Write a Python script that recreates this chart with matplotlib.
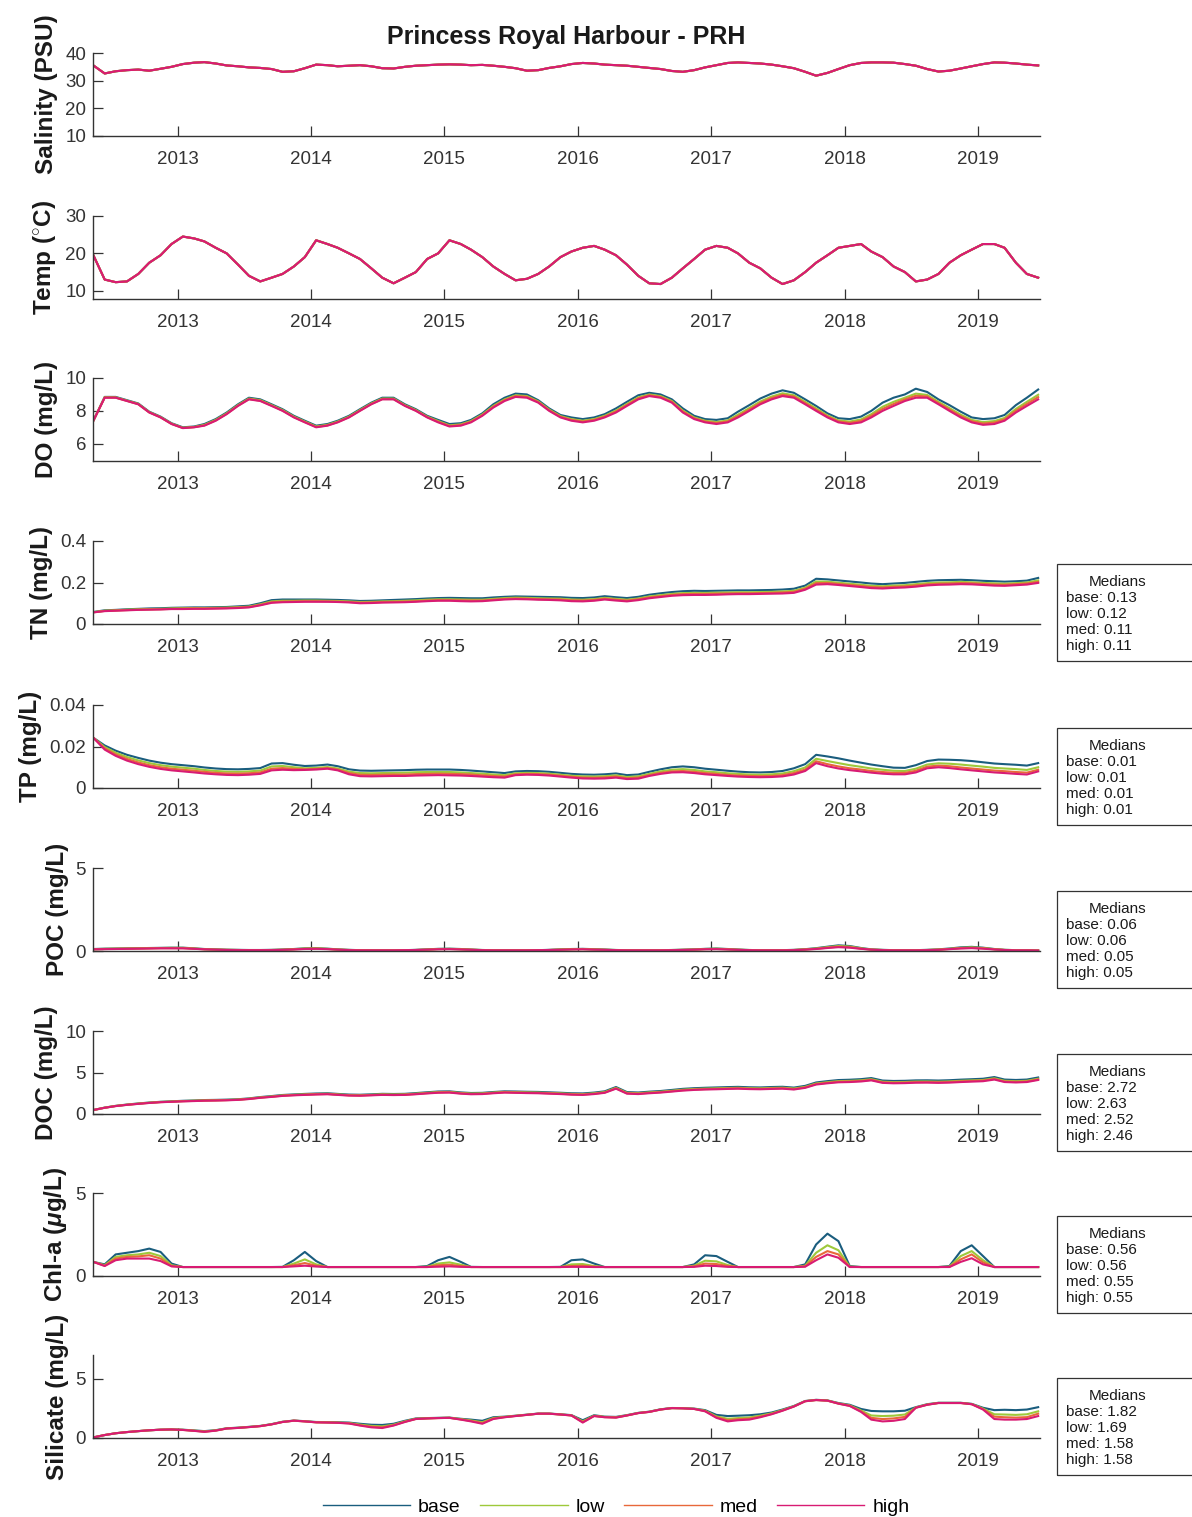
import numpy as np
import matplotlib
matplotlib.use('Agg')
import matplotlib.pyplot as plt
from matplotlib.patches import Rectangle
from matplotlib.lines import Line2D
from matplotlib.ticker import FuncFormatter
import matplotlib.dates as mdates

plt.rcParams['font.family'] = ['Liberation Sans', 'DejaVu Sans']
plt.rcParams['mathtext.fontset'] = 'custom'
plt.rcParams['mathtext.rm'] = 'Liberation Sans'
plt.rcParams['mathtext.it'] = 'Liberation Sans:italic:bold'
plt.rcParams['mathtext.bf'] = 'Liberation Sans:bold'

# monthly values, mid-month, May 2012 .. Jun 2019
months = np.arange('2012-05', '2019-07', dtype='datetime64[M]')
dates = months.astype('datetime64[D]') + 14

scenarios = ['base', 'low', 'med', 'high']
colors = ['#1a5d7e', '#9ec93a', '#e8683a', '#d81b73']

salinity = [35.5, 32.6, 33.4, 33.8, 34.0, 33.6, 34.3, 35.0,
            36.0, 36.5, 36.7, 36.2, 35.5, 35.2, 34.8, 34.6, 34.2, 33.2, 33.4, 34.5,
            35.8, 35.6, 35.2, 35.4, 35.6, 35.2, 34.5, 34.4, 35.0, 35.4, 35.6, 35.8,
            35.9, 35.8, 35.6, 35.7, 35.4, 35.0, 34.5, 33.6, 33.8, 34.6, 35.2, 36.0,
            36.4, 36.2, 35.8, 35.6, 35.4, 35.0, 34.6, 34.2, 33.5, 33.2, 33.8, 34.8,
            35.6, 36.4, 36.6, 36.4, 36.2, 35.8, 35.2, 34.5, 33.2, 31.8, 32.8, 34.2,
            35.6, 36.4, 36.6, 36.6, 36.5, 36.0, 35.4, 34.2, 33.3, 33.6, 34.4, 35.2,
            36.0, 36.6, 36.5, 36.2, 35.8, 35.5]

temp = [19.5, 13.0, 12.3, 12.5, 14.5, 17.5, 19.5, 22.5,
        24.5, 24.0, 23.2, 21.5, 20.0, 17.0, 14.0, 12.5, 13.5, 14.5, 16.5, 19.0,
        23.5, 22.5, 21.5, 20.0, 18.5, 16.0, 13.5, 12.0, 13.5, 15.0, 18.5, 20.0,
        23.5, 22.5, 21.0, 19.0, 16.5, 14.5, 12.8, 13.2, 14.5, 16.5, 19.0, 20.5,
        21.5, 22.0, 21.0, 19.5, 17.0, 14.0, 12.0, 11.8, 13.5, 16.0, 18.5, 21.0,
        22.0, 21.5, 20.0, 17.5, 16.0, 13.5, 11.8, 12.8, 15.0, 17.5, 19.5, 21.5,
        22.0, 22.5, 20.5, 19.0, 16.5, 15.0, 12.5, 13.0, 14.5, 17.5, 19.5, 21.0,
        22.5, 22.5, 21.5, 17.5, 14.5, 13.5]

do_base = [7.4, 8.85, 8.85, 8.65, 8.45, 7.95, 7.65, 7.25,
           7.0, 7.05, 7.2, 7.5, 7.9, 8.4, 8.8, 8.7, 8.4, 8.1, 7.7, 7.4,
           7.1, 7.2, 7.4, 7.7, 8.1, 8.5, 8.8, 8.8, 8.4, 8.1, 7.7, 7.45,
           7.2, 7.25, 7.45, 7.85, 8.4, 8.8, 9.05, 9.0, 8.65, 8.15, 7.75, 7.6,
           7.5, 7.6, 7.8, 8.15, 8.55, 8.95, 9.1, 9.0, 8.7, 8.15, 7.7, 7.5,
           7.45, 7.55, 7.95, 8.35, 8.75, 9.05, 9.25, 9.1, 8.7, 8.3, 7.85, 7.55,
           7.5, 7.65, 8.0, 8.5, 8.8, 9.0, 9.35, 9.15, 8.7, 8.35, 7.95, 7.6,
           7.5, 7.55, 7.75, 8.35, 8.8, 9.3]
do_low = [7.4, 8.83, 8.82, 8.62, 8.42, 7.92, 7.62, 7.22,
          6.97, 7.02, 7.15, 7.45, 7.85, 8.35, 8.75, 8.65, 8.35, 8.05, 7.65, 7.35,
          7.05, 7.15, 7.35, 7.65, 8.05, 8.45, 8.75, 8.75, 8.35, 8.05, 7.65, 7.38,
          7.12, 7.18, 7.38, 7.78, 8.3, 8.7, 8.95, 8.9, 8.58, 8.08, 7.68, 7.5,
          7.4, 7.5, 7.7, 8.02, 8.42, 8.82, 9.0, 8.9, 8.6, 8.02, 7.6, 7.4,
          7.32, 7.42, 7.77, 8.17, 8.57, 8.87, 9.07, 8.95, 8.55, 8.15, 7.72, 7.42,
          7.35, 7.48, 7.8, 8.25, 8.55, 8.8, 9.05, 8.97, 8.55, 8.17, 7.77, 7.45,
          7.32, 7.38, 7.57, 8.12, 8.55, 8.98]
do_med = [7.4, 8.81, 8.81, 8.61, 8.41, 7.91, 7.61, 7.21,
          6.96, 7.01, 7.12, 7.42, 7.82, 8.32, 8.72, 8.62, 8.32, 8.02, 7.62, 7.32,
          7.02, 7.12, 7.32, 7.62, 8.02, 8.42, 8.72, 8.72, 8.32, 8.02, 7.62, 7.34,
          7.08, 7.14, 7.34, 7.74, 8.25, 8.65, 8.9, 8.85, 8.54, 8.04, 7.64, 7.45,
          7.35, 7.45, 7.65, 7.96, 8.36, 8.76, 8.95, 8.85, 8.55, 7.96, 7.55, 7.35,
          7.26, 7.36, 7.68, 8.08, 8.48, 8.78, 8.98, 8.87, 8.47, 8.07, 7.66, 7.36,
          7.27, 7.39, 7.7, 8.12, 8.42, 8.7, 8.92, 8.88, 8.47, 8.08, 7.68, 7.37,
          7.23, 7.29, 7.48, 8.01, 8.42, 8.84]
do_high = [7.4, 8.8, 8.8, 8.6, 8.4, 7.9, 7.6, 7.2,
           6.95, 7.0, 7.1, 7.4, 7.8, 8.3, 8.7, 8.6, 8.3, 8.0, 7.6, 7.3,
           7.0, 7.1, 7.3, 7.6, 8.0, 8.4, 8.7, 8.7, 8.3, 8.0, 7.6, 7.3,
           7.05, 7.1, 7.3, 7.7, 8.2, 8.6, 8.85, 8.8, 8.5, 8.0, 7.6, 7.4,
           7.3, 7.4, 7.6, 7.9, 8.3, 8.7, 8.9, 8.8, 8.5, 7.9, 7.5, 7.3,
           7.2, 7.3, 7.6, 8.0, 8.4, 8.7, 8.9, 8.8, 8.4, 8.0, 7.6, 7.3,
           7.2, 7.3, 7.6, 8.0, 8.3, 8.6, 8.8, 8.8, 8.4, 8.0, 7.6, 7.3,
           7.15, 7.2, 7.4, 7.9, 8.3, 8.7]

tn_base = [0.058, 0.066, 0.068, 0.071, 0.073, 0.075, 0.076, 0.078,
           0.079, 0.080, 0.080, 0.081, 0.082, 0.085, 0.088, 0.100, 0.115, 0.118, 0.118, 0.118,
           0.118, 0.117, 0.116, 0.114, 0.111, 0.112, 0.114, 0.116, 0.118, 0.120, 0.123, 0.125,
           0.126, 0.125, 0.124, 0.124, 0.128, 0.131, 0.133, 0.132, 0.131, 0.130, 0.129, 0.126,
           0.125, 0.128, 0.134, 0.129, 0.125, 0.131, 0.141, 0.148, 0.154, 0.158, 0.160, 0.159,
           0.160, 0.161, 0.162, 0.162, 0.163, 0.164, 0.166, 0.170, 0.185, 0.218, 0.215, 0.210,
           0.205, 0.200, 0.195, 0.192, 0.195, 0.198, 0.203, 0.208, 0.211, 0.212, 0.213, 0.211,
           0.208, 0.206, 0.204, 0.206, 0.209, 0.222]
tn_low = [0.057, 0.064, 0.066, 0.069, 0.071, 0.072, 0.073, 0.075,
          0.076, 0.077, 0.077, 0.078, 0.079, 0.081, 0.084, 0.095, 0.109, 0.112, 0.112, 0.113,
          0.113, 0.112, 0.111, 0.109, 0.106, 0.107, 0.109, 0.110, 0.112, 0.114, 0.117, 0.119,
          0.119, 0.118, 0.117, 0.117, 0.121, 0.125, 0.127, 0.126, 0.124, 0.123, 0.122, 0.118,
          0.117, 0.120, 0.126, 0.121, 0.117, 0.123, 0.133, 0.139, 0.145, 0.149, 0.150, 0.150,
          0.151, 0.152, 0.153, 0.153, 0.154, 0.155, 0.157, 0.160, 0.175, 0.205, 0.204, 0.199,
          0.194, 0.189, 0.184, 0.182, 0.185, 0.187, 0.192, 0.197, 0.200, 0.201, 0.203, 0.201,
          0.198, 0.196, 0.194, 0.197, 0.200, 0.210]
tn_med = [0.056, 0.063, 0.065, 0.067, 0.069, 0.070, 0.071, 0.073,
          0.074, 0.075, 0.075, 0.076, 0.077, 0.079, 0.082, 0.092, 0.105, 0.108, 0.109, 0.110,
          0.110, 0.109, 0.108, 0.106, 0.103, 0.104, 0.106, 0.107, 0.108, 0.110, 0.113, 0.115,
          0.115, 0.114, 0.113, 0.113, 0.117, 0.121, 0.123, 0.122, 0.120, 0.119, 0.118, 0.114,
          0.113, 0.116, 0.122, 0.117, 0.113, 0.119, 0.128, 0.134, 0.140, 0.144, 0.145, 0.145,
          0.146, 0.147, 0.148, 0.148, 0.149, 0.150, 0.152, 0.155, 0.170, 0.197, 0.198, 0.193,
          0.188, 0.183, 0.178, 0.176, 0.179, 0.181, 0.186, 0.191, 0.194, 0.195, 0.197, 0.196,
          0.193, 0.190, 0.189, 0.192, 0.195, 0.203]
tn_high = [0.056, 0.062, 0.064, 0.066, 0.068, 0.069, 0.070, 0.072,
           0.072, 0.073, 0.073, 0.074, 0.075, 0.077, 0.080, 0.090, 0.102, 0.105, 0.106, 0.107,
           0.107, 0.107, 0.106, 0.104, 0.100, 0.101, 0.103, 0.104, 0.105, 0.107, 0.110, 0.112,
           0.112, 0.110, 0.109, 0.110, 0.114, 0.118, 0.120, 0.119, 0.117, 0.116, 0.114, 0.110,
           0.109, 0.112, 0.118, 0.113, 0.109, 0.115, 0.124, 0.130, 0.136, 0.139, 0.140, 0.140,
           0.141, 0.143, 0.144, 0.144, 0.145, 0.146, 0.147, 0.150, 0.165, 0.190, 0.192, 0.188,
           0.183, 0.178, 0.173, 0.171, 0.174, 0.176, 0.180, 0.186, 0.189, 0.190, 0.192, 0.191,
           0.188, 0.185, 0.184, 0.187, 0.190, 0.198]

tp_base = [0.0242, 0.0205, 0.0180, 0.0160, 0.0145, 0.0132, 0.0122, 0.0115,
           0.0110, 0.0105, 0.0099, 0.0094, 0.0091, 0.0090, 0.0092, 0.0096, 0.0118, 0.0120, 0.0112, 0.0106,
           0.0108, 0.0113, 0.0105, 0.0090, 0.0084, 0.0083, 0.0084, 0.0085, 0.0086, 0.0088, 0.0089, 0.0089,
           0.0089, 0.0087, 0.0084, 0.0080, 0.0076, 0.0072, 0.0080, 0.0082, 0.0081, 0.0078, 0.0073, 0.0068,
           0.0065, 0.0064, 0.0066, 0.0070, 0.0062, 0.0065, 0.0078, 0.0090, 0.0100, 0.0104, 0.0100, 0.0093,
           0.0088, 0.0083, 0.0079, 0.0076, 0.0075, 0.0077, 0.0082, 0.0095, 0.0115, 0.0160, 0.0152, 0.0143,
           0.0132, 0.0122, 0.0113, 0.0105, 0.0098, 0.0097, 0.0110, 0.0130, 0.0137, 0.0136, 0.0134, 0.0130,
           0.0124, 0.0118, 0.0115, 0.0112, 0.0108, 0.0120]
tp_low = [0.0242, 0.0197, 0.0170, 0.0149, 0.0133, 0.0120, 0.0110, 0.0103,
          0.0098, 0.0093, 0.0087, 0.0082, 0.0079, 0.0078, 0.0080, 0.0084, 0.0104, 0.0106, 0.0100, 0.0095,
          0.0097, 0.0101, 0.0094, 0.0079, 0.0072, 0.0071, 0.0072, 0.0073, 0.0074, 0.0076, 0.0077, 0.0077,
          0.0077, 0.0075, 0.0072, 0.0069, 0.0065, 0.0062, 0.0071, 0.0073, 0.0072, 0.0069, 0.0064, 0.0059,
          0.0056, 0.0055, 0.0057, 0.0061, 0.0053, 0.0056, 0.0068, 0.0080, 0.0088, 0.0091, 0.0087, 0.0080,
          0.0076, 0.0071, 0.0068, 0.0065, 0.0064, 0.0066, 0.0070, 0.0081, 0.0099, 0.0141, 0.0130, 0.0120,
          0.0110, 0.0102, 0.0094, 0.0088, 0.0083, 0.0082, 0.0093, 0.0113, 0.0119, 0.0117, 0.0113, 0.0108,
          0.0103, 0.0097, 0.0094, 0.0091, 0.0087, 0.0100]
tp_med = [0.0242, 0.0191, 0.0162, 0.0140, 0.0123, 0.0110, 0.0100, 0.0093,
          0.0088, 0.0083, 0.0078, 0.0073, 0.0070, 0.0069, 0.0071, 0.0075, 0.0093, 0.0096, 0.0092, 0.0090,
          0.0092, 0.0096, 0.0089, 0.0072, 0.0064, 0.0063, 0.0064, 0.0065, 0.0065, 0.0067, 0.0068, 0.0069,
          0.0068, 0.0067, 0.0065, 0.0061, 0.0058, 0.0055, 0.0066, 0.0068, 0.0067, 0.0064, 0.0059, 0.0054,
          0.0050, 0.0049, 0.0051, 0.0055, 0.0047, 0.0050, 0.0062, 0.0073, 0.0080, 0.0082, 0.0078, 0.0072,
          0.0068, 0.0063, 0.0060, 0.0058, 0.0057, 0.0058, 0.0062, 0.0072, 0.0089, 0.0129, 0.0115, 0.0104,
          0.0095, 0.0089, 0.0082, 0.0077, 0.0073, 0.0073, 0.0083, 0.0103, 0.0108, 0.0105, 0.0099, 0.0094,
          0.0089, 0.0084, 0.0081, 0.0077, 0.0074, 0.0088]
tp_high = [0.0242, 0.0185, 0.0155, 0.0132, 0.0115, 0.0102, 0.0092, 0.0085,
           0.0080, 0.0075, 0.0070, 0.0066, 0.0063, 0.0062, 0.0064, 0.0068, 0.0085, 0.0088, 0.0086, 0.0087,
           0.0089, 0.0093, 0.0085, 0.0066, 0.0057, 0.0056, 0.0057, 0.0058, 0.0058, 0.0060, 0.0061, 0.0062,
           0.0061, 0.0060, 0.0058, 0.0055, 0.0052, 0.0050, 0.0062, 0.0064, 0.0063, 0.0060, 0.0055, 0.0050,
           0.0046, 0.0045, 0.0046, 0.0050, 0.0043, 0.0045, 0.0058, 0.0068, 0.0075, 0.0076, 0.0072, 0.0066,
           0.0062, 0.0058, 0.0055, 0.0053, 0.0052, 0.0053, 0.0056, 0.0065, 0.0082, 0.0120, 0.0105, 0.0094,
           0.0086, 0.0080, 0.0074, 0.0069, 0.0066, 0.0066, 0.0075, 0.0095, 0.0100, 0.0096, 0.0090, 0.0085,
           0.0080, 0.0075, 0.0072, 0.0068, 0.0065, 0.0080]

poc_base = [0.12, 0.14, 0.15, 0.16, 0.17, 0.18, 0.19, 0.20,
            0.20, 0.16, 0.12, 0.10, 0.08, 0.07, 0.06, 0.06, 0.07, 0.09, 0.12, 0.16,
            0.17, 0.14, 0.10, 0.07, 0.05, 0.04, 0.04, 0.04, 0.05, 0.07, 0.10, 0.13,
            0.14, 0.12, 0.09, 0.06, 0.05, 0.04, 0.04, 0.04, 0.05, 0.07, 0.10, 0.12,
            0.13, 0.11, 0.09, 0.06, 0.05, 0.04, 0.04, 0.05, 0.06, 0.08, 0.10, 0.13,
            0.15, 0.12, 0.09, 0.06, 0.05, 0.04, 0.05, 0.07, 0.11, 0.17, 0.26, 0.34,
            0.30, 0.18, 0.10, 0.07, 0.05, 0.04, 0.05, 0.07, 0.10, 0.15, 0.22, 0.25,
            0.20, 0.12, 0.07, 0.05, 0.04, 0.03]
poc_low = [0.11, 0.13, 0.14, 0.15, 0.16, 0.17, 0.18, 0.19,
           0.19, 0.15, 0.11, 0.09, 0.07, 0.06, 0.05, 0.05, 0.06, 0.08, 0.11, 0.15,
           0.16, 0.13, 0.09, 0.06, 0.05, 0.04, 0.04, 0.04, 0.05, 0.06, 0.09, 0.12,
           0.13, 0.11, 0.08, 0.06, 0.05, 0.04, 0.04, 0.04, 0.05, 0.06, 0.09, 0.11,
           0.12, 0.10, 0.08, 0.06, 0.05, 0.04, 0.04, 0.05, 0.06, 0.07, 0.09, 0.12,
           0.14, 0.11, 0.08, 0.06, 0.05, 0.04, 0.05, 0.06, 0.10, 0.15, 0.23, 0.30,
           0.27, 0.16, 0.09, 0.06, 0.05, 0.04, 0.05, 0.06, 0.09, 0.13, 0.19, 0.22,
           0.18, 0.11, 0.07, 0.05, 0.04, 0.03]
poc_med = [0.10, 0.12, 0.13, 0.14, 0.15, 0.16, 0.17, 0.17,
           0.17, 0.14, 0.10, 0.08, 0.07, 0.06, 0.05, 0.05, 0.06, 0.07, 0.10, 0.13,
           0.14, 0.12, 0.08, 0.06, 0.05, 0.04, 0.04, 0.04, 0.05, 0.06, 0.08, 0.11,
           0.12, 0.10, 0.08, 0.05, 0.04, 0.04, 0.04, 0.04, 0.05, 0.06, 0.08, 0.10,
           0.11, 0.09, 0.07, 0.05, 0.04, 0.04, 0.04, 0.04, 0.05, 0.07, 0.08, 0.11,
           0.12, 0.10, 0.07, 0.05, 0.04, 0.04, 0.04, 0.06, 0.09, 0.13, 0.20, 0.26,
           0.23, 0.14, 0.08, 0.06, 0.04, 0.04, 0.04, 0.06, 0.08, 0.12, 0.17, 0.19,
           0.16, 0.10, 0.06, 0.04, 0.04, 0.03]
poc_high = [0.10, 0.11, 0.12, 0.13, 0.14, 0.15, 0.16, 0.16,
            0.16, 0.13, 0.10, 0.08, 0.06, 0.05, 0.05, 0.05, 0.05, 0.07, 0.09, 0.12,
            0.13, 0.11, 0.08, 0.05, 0.04, 0.04, 0.04, 0.04, 0.05, 0.06, 0.08, 0.10,
            0.11, 0.09, 0.07, 0.05, 0.04, 0.04, 0.04, 0.04, 0.05, 0.06, 0.07, 0.09,
            0.10, 0.08, 0.07, 0.05, 0.04, 0.04, 0.04, 0.04, 0.05, 0.06, 0.08, 0.10,
            0.11, 0.09, 0.07, 0.05, 0.04, 0.04, 0.04, 0.05, 0.08, 0.12, 0.18, 0.23,
            0.20, 0.13, 0.08, 0.05, 0.04, 0.04, 0.04, 0.05, 0.07, 0.11, 0.15, 0.17,
            0.14, 0.09, 0.06, 0.04, 0.04, 0.03]

doc_base = [0.48, 0.77, 0.98, 1.14, 1.27, 1.38, 1.47, 1.53,
            1.59, 1.63, 1.68, 1.70, 1.73, 1.78, 1.88, 2.04, 2.16, 2.29, 2.36, 2.42,
            2.47, 2.50, 2.42, 2.34, 2.32, 2.37, 2.43, 2.41, 2.43, 2.52, 2.62, 2.71,
            2.73, 2.60, 2.53, 2.55, 2.65, 2.73, 2.71, 2.68, 2.66, 2.61, 2.56, 2.50,
            2.48, 2.58, 2.73, 3.25, 2.64, 2.59, 2.69, 2.77, 2.90, 3.03, 3.11, 3.16,
            3.20, 3.24, 3.27, 3.22, 3.20, 3.25, 3.28, 3.18, 3.39, 3.80, 3.96, 4.09,
            4.13, 4.20, 4.33, 4.03, 3.98, 4.00, 4.05, 4.06, 4.03, 4.07, 4.14, 4.19,
            4.25, 4.45, 4.15, 4.10, 4.15, 4.40]
doc_low = [0.48, 0.76, 0.97, 1.12, 1.25, 1.36, 1.45, 1.50,
           1.56, 1.60, 1.64, 1.66, 1.69, 1.74, 1.84, 2.00, 2.11, 2.24, 2.31, 2.36,
           2.41, 2.44, 2.36, 2.28, 2.26, 2.31, 2.37, 2.35, 2.37, 2.45, 2.55, 2.64,
           2.66, 2.53, 2.46, 2.48, 2.58, 2.66, 2.63, 2.60, 2.58, 2.53, 2.48, 2.42,
           2.39, 2.49, 2.64, 3.15, 2.55, 2.50, 2.60, 2.68, 2.80, 2.93, 3.01, 3.06,
           3.09, 3.13, 3.16, 3.11, 3.09, 3.14, 3.17, 3.07, 3.27, 3.68, 3.83, 3.96,
           3.99, 4.06, 4.19, 3.89, 3.84, 3.86, 3.91, 3.92, 3.89, 3.93, 4.00, 4.05,
           4.10, 4.30, 4.00, 3.95, 4.00, 4.25]
doc_med = [0.48, 0.75, 0.96, 1.11, 1.23, 1.34, 1.43, 1.48,
           1.54, 1.58, 1.62, 1.64, 1.67, 1.72, 1.82, 1.97, 2.08, 2.21, 2.28, 2.33,
           2.38, 2.41, 2.33, 2.25, 2.23, 2.28, 2.33, 2.31, 2.33, 2.41, 2.51, 2.60,
           2.62, 2.49, 2.42, 2.44, 2.54, 2.62, 2.59, 2.56, 2.54, 2.49, 2.44, 2.37,
           2.34, 2.44, 2.59, 3.10, 2.50, 2.45, 2.55, 2.63, 2.75, 2.87, 2.95, 3.00,
           3.03, 3.07, 3.10, 3.05, 3.03, 3.08, 3.11, 3.01, 3.21, 3.61, 3.76, 3.89,
           3.92, 3.99, 4.12, 3.82, 3.77, 3.79, 3.84, 3.85, 3.82, 3.86, 3.93, 3.98,
           4.03, 4.22, 3.92, 3.87, 3.92, 4.17]
doc_high = [0.48, 0.75, 0.95, 1.10, 1.22, 1.33, 1.42, 1.47,
            1.52, 1.56, 1.60, 1.62, 1.65, 1.70, 1.80, 1.95, 2.06, 2.18, 2.25, 2.30,
            2.35, 2.38, 2.30, 2.22, 2.20, 2.25, 2.30, 2.28, 2.30, 2.38, 2.48, 2.56,
            2.58, 2.45, 2.38, 2.40, 2.50, 2.58, 2.55, 2.52, 2.50, 2.45, 2.40, 2.33,
            2.30, 2.40, 2.55, 3.05, 2.45, 2.40, 2.50, 2.58, 2.70, 2.82, 2.90, 2.95,
            2.98, 3.02, 3.05, 3.00, 2.98, 3.02, 3.05, 2.95, 3.15, 3.55, 3.70, 3.82,
            3.85, 3.92, 4.05, 3.75, 3.70, 3.72, 3.77, 3.78, 3.75, 3.78, 3.85, 3.90,
            3.95, 4.15, 3.85, 3.80, 3.85, 4.10]

chl_base = [0.85, 0.70, 1.30, 1.40, 1.50, 1.65, 1.45, 0.75,
            0.54, 0.54, 0.54, 0.54, 0.54, 0.54, 0.54, 0.54, 0.54, 0.55, 0.95, 1.45,
            0.90, 0.54, 0.54, 0.54, 0.54, 0.54, 0.54, 0.54, 0.54, 0.54, 0.60, 0.95,
            1.15, 0.85, 0.55, 0.54, 0.54, 0.54, 0.54, 0.54, 0.54, 0.54, 0.55, 0.95,
            1.00, 0.75, 0.54, 0.54, 0.54, 0.54, 0.54, 0.54, 0.54, 0.54, 0.70, 1.25,
            1.20, 0.85, 0.54, 0.54, 0.54, 0.54, 0.54, 0.54, 0.70, 1.90, 2.55, 2.10,
            0.60, 0.54, 0.54, 0.54, 0.54, 0.54, 0.54, 0.54, 0.54, 0.60, 1.50, 1.85,
            1.20, 0.54, 0.54, 0.54, 0.54, 0.54]
chl_low = [0.85, 0.65, 1.15, 1.25, 1.30, 1.40, 1.20, 0.65,
           0.54, 0.54, 0.54, 0.54, 0.54, 0.54, 0.54, 0.54, 0.54, 0.54, 0.75, 1.00,
           0.70, 0.54, 0.54, 0.54, 0.54, 0.54, 0.54, 0.54, 0.54, 0.54, 0.56, 0.75,
           0.82, 0.68, 0.54, 0.54, 0.54, 0.54, 0.54, 0.54, 0.54, 0.54, 0.54, 0.70,
           0.72, 0.60, 0.54, 0.54, 0.54, 0.54, 0.54, 0.54, 0.54, 0.54, 0.62, 0.92,
           0.88, 0.66, 0.54, 0.54, 0.54, 0.54, 0.54, 0.54, 0.62, 1.40, 1.85, 1.55,
           0.56, 0.54, 0.54, 0.54, 0.54, 0.54, 0.54, 0.54, 0.54, 0.56, 1.20, 1.50,
           0.95, 0.54, 0.54, 0.54, 0.54, 0.54]
chl_med = [0.85, 0.62, 1.05, 1.15, 1.18, 1.25, 1.05, 0.60,
           0.54, 0.54, 0.54, 0.54, 0.54, 0.54, 0.54, 0.54, 0.54, 0.54, 0.65, 0.78,
           0.62, 0.54, 0.54, 0.54, 0.54, 0.54, 0.54, 0.54, 0.54, 0.54, 0.54, 0.65,
           0.68, 0.60, 0.54, 0.54, 0.54, 0.54, 0.54, 0.54, 0.54, 0.54, 0.54, 0.60,
           0.62, 0.56, 0.54, 0.54, 0.54, 0.54, 0.54, 0.54, 0.54, 0.54, 0.58, 0.75,
           0.72, 0.60, 0.54, 0.54, 0.54, 0.54, 0.54, 0.54, 0.58, 1.15, 1.50, 1.30,
           0.55, 0.54, 0.54, 0.54, 0.54, 0.54, 0.54, 0.54, 0.54, 0.55, 1.00, 1.30,
           0.82, 0.54, 0.54, 0.54, 0.54, 0.54]
chl_high = [0.85, 0.60, 0.95, 1.05, 1.05, 1.05, 0.90, 0.58,
            0.54, 0.54, 0.54, 0.54, 0.54, 0.54, 0.54, 0.54, 0.54, 0.54, 0.58, 0.62,
            0.57, 0.54, 0.54, 0.54, 0.54, 0.54, 0.54, 0.54, 0.54, 0.54, 0.54, 0.56,
            0.58, 0.55, 0.54, 0.54, 0.54, 0.54, 0.54, 0.54, 0.54, 0.54, 0.54, 0.55,
            0.55, 0.54, 0.54, 0.54, 0.54, 0.54, 0.54, 0.54, 0.54, 0.54, 0.55, 0.62,
            0.60, 0.55, 0.54, 0.54, 0.54, 0.54, 0.54, 0.54, 0.56, 0.95, 1.30, 1.10,
            0.54, 0.54, 0.54, 0.54, 0.54, 0.54, 0.54, 0.54, 0.54, 0.54, 0.85, 1.07,
            0.70, 0.54, 0.54, 0.54, 0.54, 0.54]

sil_base = [0.05, 0.25, 0.40, 0.50, 0.58, 0.65, 0.70, 0.72,
            0.70, 0.64, 0.58, 0.66, 0.82, 0.87, 0.94, 1.02, 1.17, 1.37, 1.47, 1.42,
            1.35, 1.34, 1.33, 1.30, 1.20, 1.12, 1.10, 1.20, 1.45, 1.65, 1.68, 1.70,
            1.72, 1.62, 1.55, 1.45, 1.75, 1.80, 1.88, 1.97, 2.06, 2.06, 2.00, 1.93,
            1.50, 1.92, 1.80, 1.78, 1.93, 2.12, 2.22, 2.42, 2.53, 2.52, 2.48, 2.35,
            1.95, 1.85, 1.88, 1.92, 2.00, 2.15, 2.40, 2.70, 3.12, 3.22, 3.17, 2.95,
            2.80, 2.45, 2.28, 2.25, 2.25, 2.30, 2.60, 2.85, 2.97, 2.97, 2.97, 2.88,
            2.55, 2.35, 2.38, 2.35, 2.40, 2.60]
sil_low = [0.05, 0.25, 0.40, 0.50, 0.58, 0.65, 0.70, 0.72,
           0.69, 0.62, 0.55, 0.64, 0.81, 0.86, 0.93, 1.01, 1.16, 1.36, 1.46, 1.41,
           1.33, 1.32, 1.30, 1.26, 1.13, 1.02, 0.98, 1.12, 1.40, 1.62, 1.66, 1.69,
           1.71, 1.59, 1.48, 1.33, 1.68, 1.78, 1.87, 1.96, 2.05, 2.05, 1.99, 1.91,
           1.40, 1.88, 1.78, 1.75, 1.91, 2.11, 2.21, 2.41, 2.52, 2.51, 2.46, 2.30,
           1.82, 1.62, 1.68, 1.73, 1.88, 2.08, 2.35, 2.67, 3.11, 3.21, 3.16, 2.92,
           2.75, 2.32, 1.90, 1.85, 1.88, 1.98, 2.57, 2.82, 2.96, 2.96, 2.96, 2.86,
           2.48, 2.00, 1.98, 1.95, 2.00, 2.25]
sil_med = [0.05, 0.25, 0.40, 0.50, 0.58, 0.65, 0.70, 0.72,
           0.68, 0.61, 0.53, 0.63, 0.80, 0.85, 0.92, 1.00, 1.15, 1.35, 1.46, 1.40,
           1.32, 1.31, 1.29, 1.24, 1.08, 0.95, 0.90, 1.08, 1.37, 1.61, 1.65, 1.68,
           1.70, 1.57, 1.44, 1.26, 1.64, 1.76, 1.86, 1.95, 2.05, 2.05, 1.98, 1.90,
           1.35, 1.86, 1.76, 1.73, 1.90, 2.10, 2.20, 2.40, 2.52, 2.50, 2.45, 2.27,
           1.75, 1.50, 1.58, 1.63, 1.80, 2.03, 2.32, 2.66, 3.10, 3.20, 3.15, 2.90,
           2.72, 2.25, 1.70, 1.60, 1.65, 1.78, 2.56, 2.81, 2.95, 2.95, 2.95, 2.85,
           2.44, 1.80, 1.75, 1.72, 1.76, 2.05]
sil_high = [0.05, 0.25, 0.40, 0.50, 0.58, 0.65, 0.70, 0.72,
            0.68, 0.60, 0.52, 0.62, 0.80, 0.85, 0.92, 1.00, 1.15, 1.35, 1.46, 1.40,
            1.32, 1.30, 1.28, 1.22, 1.05, 0.90, 0.84, 1.05, 1.35, 1.60, 1.65, 1.68,
            1.70, 1.55, 1.40, 1.20, 1.60, 1.75, 1.85, 1.95, 2.05, 2.05, 1.98, 1.90,
            1.30, 1.85, 1.75, 1.72, 1.90, 2.10, 2.20, 2.40, 2.52, 2.50, 2.45, 2.25,
            1.70, 1.40, 1.50, 1.55, 1.75, 2.00, 2.30, 2.65, 3.10, 3.20, 3.15, 2.90,
            2.70, 2.20, 1.55, 1.40, 1.45, 1.60, 2.55, 2.80, 2.95, 2.95, 2.95, 2.85,
            2.40, 1.60, 1.55, 1.55, 1.60, 1.85]

tn_medians = [0.13, 0.12, 0.11, 0.11]
tp_medians = [0.01, 0.01, 0.01, 0.01]
poc_medians = [0.06, 0.06, 0.05, 0.05]
doc_medians = [2.72, 2.63, 2.52, 2.46]
chl_medians = [0.56, 0.56, 0.55, 0.55]
sil_medians = [1.82, 1.69, 1.58, 1.58]

panels = [
    ('Salinity (PSU)', [salinity] * 4, (10, 40), [10, 20, 30, 40], None),
    (r'Temp ($^{\circ}$C)', [temp] * 4, (7.8, 30), [10, 20, 30], None),
    ('DO (mg/L)', [do_base, do_low, do_med, do_high], (4.95, 10), [6, 8, 10], None),
    ('TN (mg/L)', [tn_base, tn_low, tn_med, tn_high], (0, 0.4), [0, 0.2, 0.4], tn_medians),
    ('TP (mg/L)', [tp_base, tp_low, tp_med, tp_high], (0, 0.04), [0, 0.02, 0.04], tp_medians),
    ('POC (mg/L)', [poc_base, poc_low, poc_med, poc_high], (0, 5), [0, 5], poc_medians),
    ('DOC (mg/L)', [doc_base, doc_low, doc_med, doc_high], (0, 10), [0, 5, 10], doc_medians),
    (r'Chl-a ($\mu$g/L)', [chl_base, chl_low, chl_med, chl_high], (0, 5), [0, 5], chl_medians),
    ('Silicate (mg/L)', [sil_base, sil_low, sil_med, sil_high], (0, 7), [0, 5], sil_medians),
]

W, H = 1192, 1517
fig = plt.figure(figsize=(W / 100, H / 100), dpi=100)
axcol = '#333333'
tops = [53, 216, 378, 541, 705, 868, 1031, 1193, 1355]
axh = 83

for (label, series, ylim, yticks, medians), top in zip(panels, tops):
    ax = fig.add_axes([93 / W, 1 - (top + axh) / H, 947 / W, axh / H])
    for vals, col in zip(series, colors):
        ax.plot(dates, vals, color=col, lw=1.5)
    ax.set_xlim(np.datetime64('2012-05-14'), np.datetime64('2019-06-20'))
    ax.set_ylim(*ylim)
    ax.set_yticks(yticks)
    ax.yaxis.set_major_formatter(FuncFormatter(lambda v, p: f'{v:g}'))
    ax.xaxis.set_major_locator(mdates.YearLocator())
    ax.xaxis.set_major_formatter(mdates.DateFormatter('%Y'))
    for s in ['top', 'right']:
        ax.spines[s].set_visible(False)
    for s in ['left', 'bottom']:
        ax.spines[s].set_color(axcol)
        ax.spines[s].set_linewidth(1.0)
    ax.tick_params(axis='x', direction='in', length=7, width=0.9, colors=axcol,
                   labelsize=13.5, pad=11)
    ax.tick_params(axis='y', direction='in', length=7, width=0.9, colors=axcol,
                   labelsize=13.5, pad=5)
    ax.set_ylabel(label, fontsize=17.5, fontweight='bold', color='#1a1a1a', labelpad=5)

    if medians is not None:
        btop = top + 23
        rect = Rectangle((1057 / W, 1 - (btop + 97) / H), 160 / W, 97 / H,
                         transform=fig.transFigure, fill=False, ec='#333333', lw=0.9,
                         clip_on=False)
        fig.add_artist(rect)
        fig.text(1118 / W, 1 - (btop + 18) / H, 'Medians', ha='center', va='center',
                 fontsize=11, color='#1a1a1a')
        for k, (name, m) in enumerate(zip(scenarios, medians)):
            fig.text(1066 / W, 1 - (btop + 34 + 16 * k) / H, f'{name}: {m:.2f}',
                     ha='left', va='center', fontsize=11, color='#1a1a1a')

fig.text(566 / W, 1 - 37 / H, 'Princess Royal Harbour - PRH', ha='center', va='center',
         fontsize=18, fontweight='bold', color='#1a1a1a')

handles = [Line2D([], [], color=c, lw=1.0) for c in colors]
fig.legend(handles, scenarios, loc='center', bbox_to_anchor=(616 / W, 1 - 1507 / H),
           ncol=4, frameon=False, fontsize=14, handlelength=4.5, handletextpad=0.4,
           columnspacing=1.0)

fig.savefig('out.png', dpi=100)
